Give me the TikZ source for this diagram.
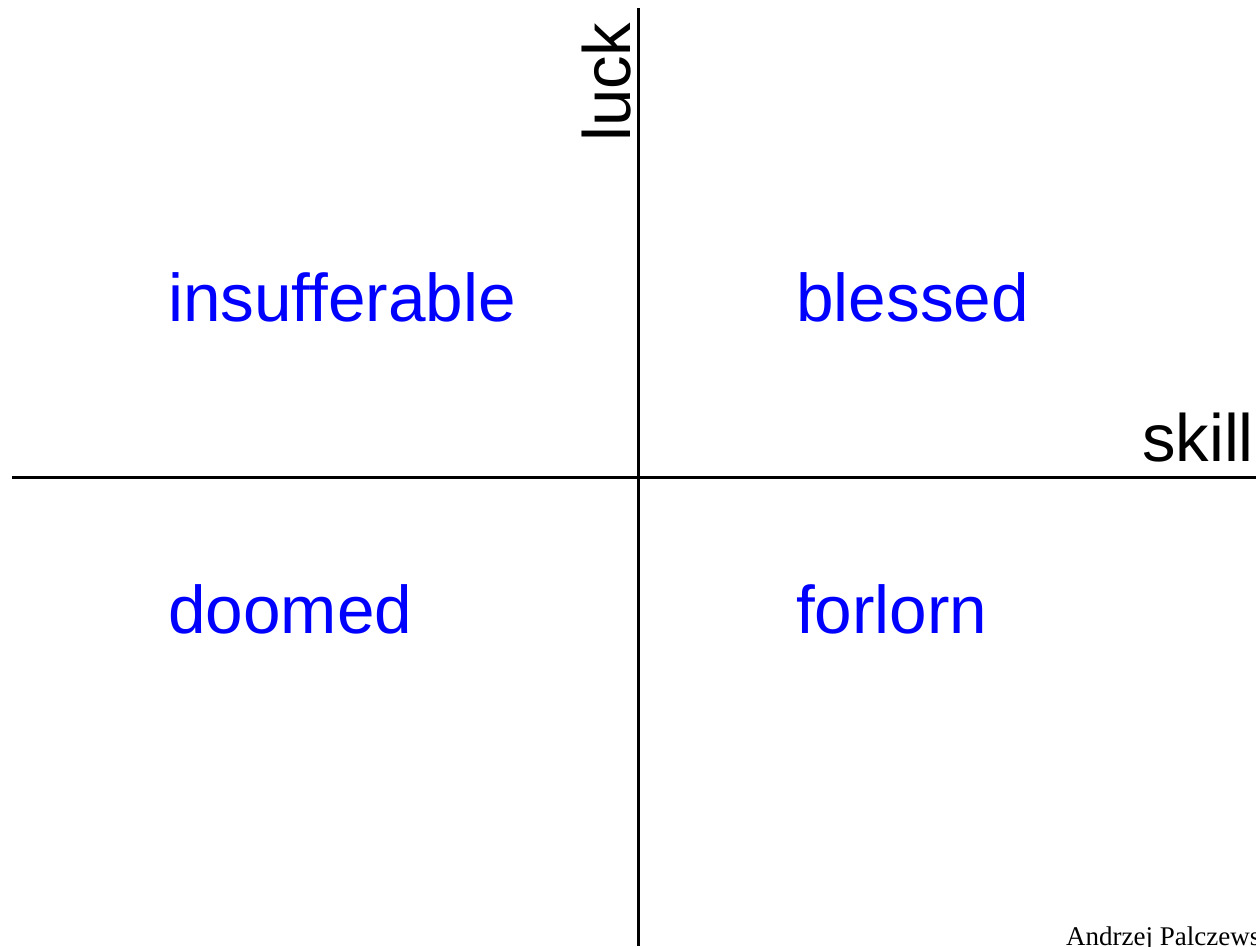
\documentclass[tikz,border=0pt]{standalone}
\usepackage{fontspec}
\setmainfont[Ligatures=NoCommon]{Liberation Sans}
\newfontfamily\serifnote{Liberation Serif}
\definecolor{quadblue}{RGB}{0,0,255}
\tikzset{
  axis/.style={line width=3pt, black},
  quad/.style={anchor=base west, inner sep=0pt, text=quadblue, font=\fontsize{67.5}{80}\selectfont},
  axlabel/.style={inner sep=0pt, text=black, font=\fontsize{67}{80}\selectfont},
}
\begin{document}
\begin{tikzpicture}[x=1pt,y=1pt]
\useasboundingbox (0,0) rectangle (1256,946);
\clip (0,0) rectangle (1256,946);
\coordinate (vtop) at (638,938);
\coordinate (vbot) at (638,0);
\coordinate (hleft) at (12,468);
\coordinate (hright) at (1256,468);
\draw[axis] (vbot) -- (vtop);
\draw[axis] (hleft) -- (hright);
\node[axlabel, anchor=base west, rotate=90] (luck) at (630,804) {luck};
\node[axlabel, anchor=base east] (skill) at (1254,484) {skill};
\node[quad] (insuff) at (168,624) {insufferable};
\node[quad] (blessed) at (796,624) {blessed};
\node[quad] (doomed) at (168,312) {doomed};
\node[quad] (forlorn) at (796,312) {forlorn};
\node[anchor=base west, inner sep=0pt, font=\serifnote\fontsize{27}{32}\selectfont] (author) at (1066,1) {Andrzej Palczewski};
\end{tikzpicture}
\end{document}
